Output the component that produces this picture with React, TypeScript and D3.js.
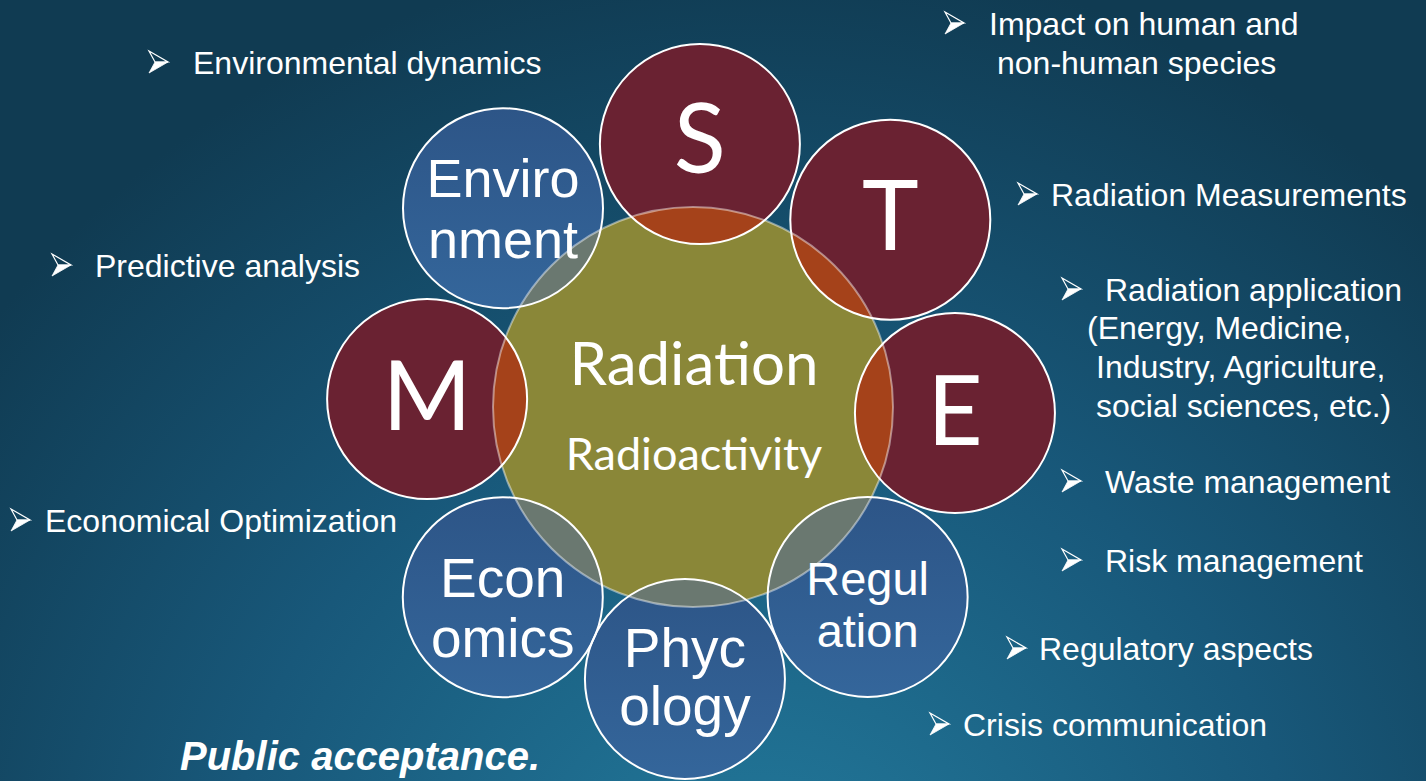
import React, { useEffect, useRef } from 'react';
import * as d3 from 'd3';

const W = 1426;
const H = 781;

// ring of topics around the core, clockwise from the top
const topicLines = [['S'], ['T'], ['E'], ['Regul', 'ation'], ['Phyc', 'ology'], ['Econ', 'omics'], ['M'], ['Enviro', 'nment']];
const topicGroup = ['stem', 'stem', 'stem', 'social', 'social', 'social', 'stem', 'social'];
const topicAngle = [-88.5, -43.5, 1.3, 47.4, 91.7, 135, 181.7, 226.3];
const topicDist = [263, 272, 262, 258, 272, 269, 266, 275];

const coreLines = ['Radiation', 'Radioactivity'];

const bulletLines = [
  ['Environmental dynamics'],
  ['Impact on human and', 'non-human species'],
  ['Radiation Measurements'],
  ['Radiation application', '(Energy, Medicine,', 'Industry, Agriculture,', 'social sciences, etc.)'],
  ['Waste management'],
  ['Risk management'],
  ['Regulatory aspects'],
  ['Crisis communication'],
  ['Predictive analysis'],
  ['Economical Optimization'],
];
const footer = 'Public acceptance.';

// layout
const core = { x: 693, y: 407, r: 200 };
const topicR = 100;
const topicFont = [96, 96, 96, 47, 55, 55, 96, 54];
const topicBase = [[29], [30], [32], [-2, 50], [-12, 46], [0, 60], [31], [-11, 50]];
const bulletPos = [
  { ax: 149, tx: 193, y: 74, sub: [] },
  { ax: 945, tx: 989, y: 35, sub: [[997, 74]] },
  { ax: 1018, tx: 1051, y: 206, sub: [] },
  { ax: 1062, tx: 1105, y: 301, sub: [[1087, 339], [1096, 378], [1096, 417]] },
  { ax: 1062, tx: 1105, y: 493, sub: [] },
  { ax: 1062, tx: 1105, y: 572, sub: [] },
  { ax: 1007, tx: 1039, y: 660, sub: [] },
  { ax: 930, tx: 963, y: 736, sub: [] },
  { ax: 52, tx: 95, y: 277, sub: [] },
  { ax: 11, tx: 45, y: 532, sub: [] },
];

const fill = { stem: '#6a2232', social: 'url(#blueFill)' };
const lens = { stem: '#a5421a', social: '#6a7870' };
const sans = '"Liberation Sans", Arial, sans-serif';
const soft = 'Lato, "Open Sans", sans-serif';

export default function App() {
  const ref = useRef<SVGSVGElement>(null);

  useEffect(() => {
    const svg = d3.select(ref.current);
    svg.selectAll('*').remove();

    const defs = svg.append('defs');
    const bg = defs.append('radialGradient').attr('id', 'bg')
      .attr('gradientUnits', 'userSpaceOnUse')
      .attr('cx', 760).attr('cy', 930).attr('r', 980);
    bg.append('stop').attr('offset', 0).attr('stop-color', '#237b9d');
    bg.append('stop').attr('offset', 0.55).attr('stop-color', '#18587a');
    bg.append('stop').attr('offset', 1).attr('stop-color', '#103b52');

    const blue = defs.append('linearGradient').attr('id', 'blueFill')
      .attr('x1', 0).attr('y1', 0).attr('x2', 0).attr('y2', 1);
    blue.append('stop').attr('offset', 0).attr('stop-color', '#2d5587');
    blue.append('stop').attr('offset', 1).attr('stop-color', '#34669b');

    defs.append('clipPath').attr('id', 'coreClip')
      .append('circle').attr('cx', core.x).attr('cy', core.y).attr('r', core.r);

    svg.append('rect').attr('width', W).attr('height', H).attr('fill', 'url(#bg)');

    const rad = d3.scaleLinear().domain([0, 180]).range([0, Math.PI]);
    const topics = topicLines.map((lines, i) => ({
      lines,
      group: topicGroup[i],
      x: core.x + topicDist[i] * Math.cos(rad(topicAngle[i])),
      y: core.y + topicDist[i] * Math.sin(rad(topicAngle[i])),
      size: topicFont[i],
      base: topicBase[i],
    }));

    // - core disc
    svg.append('circle').attr('cx', core.x).attr('cy', core.y).attr('r', core.r).attr('fill', '#8a8738');

    // - outer discs
    svg.selectAll('circle.topic').data(topics).enter().append('circle')
      .attr('class', 'topic')
      .attr('cx', d => d.x).attr('cy', d => d.y).attr('r', topicR)
      .attr('fill', d => fill[d.group]);

    // - overlaps with the core
    svg.append('g').attr('clip-path', 'url(#coreClip)')
      .selectAll('circle').data(topics).enter().append('circle')
      .attr('cx', d => d.x).attr('cy', d => d.y).attr('r', topicR)
      .attr('fill', d => lens[d.group]);

    svg.append('circle').attr('cx', core.x).attr('cy', core.y).attr('r', core.r)
      .attr('fill', 'none').attr('stroke', '#ffffff').attr('stroke-opacity', 0.45).attr('stroke-width', 2);

    svg.selectAll('circle.rim').data(topics).enter().append('circle')
      .attr('class', 'rim')
      .attr('cx', d => d.x).attr('cy', d => d.y).attr('r', topicR)
      .attr('fill', 'none').attr('stroke', '#ffffff').attr('stroke-width', 2);

    // - labels in discs (single letters use the softer face)
    topics.forEach(t => {
      const letter = t.lines[0].length === 1;
      t.lines.forEach((line, j) => {
        svg.append('text').attr('x', t.x).attr('y', t.y + t.base[j])
          .attr('text-anchor', 'middle').attr('fill', '#fff')
          .attr('font-family', letter ? soft : sans).attr('font-size', t.size)
          .text(line);
      });
    });

    svg.append('text').attr('x', core.x + 1).attr('y', 385)
      .attr('text-anchor', 'middle').attr('fill', '#fff')
      .attr('font-family', soft).attr('font-size', 60)
      .text(coreLines[0]);
    svg.append('text').attr('x', core.x + 1).attr('y', 470)
      .attr('text-anchor', 'middle').attr('fill', '#fff')
      .attr('font-family', soft).attr('font-size', 45)
      .text(coreLines[1]);

    // - bullets
    const arrowTop = (x: number, y: number) => `M${x},${y - 22}L${x + 19},${y - 11}L${x + 6},${y - 11}Z`;
    const arrowBottom = (x: number, y: number) => `M${x + 6},${y - 11}L${x + 19},${y - 11}L${x},${y}Z`;

    bulletLines.forEach((lines, i) => {
      const p = bulletPos[i];
      const g = svg.append('g');
      g.append('path').attr('d', arrowTop(p.ax, p.y - 1))
        .attr('fill', 'none').attr('stroke', '#fff').attr('stroke-width', 1.2).attr('stroke-linejoin', 'miter');
      g.append('path').attr('d', arrowBottom(p.ax, p.y - 1))
        .attr('fill', '#fff').attr('stroke', '#fff').attr('stroke-width', 0.8);
      g.append('text').attr('x', p.tx).attr('y', p.y)
        .attr('fill', '#fff').attr('font-family', sans).attr('font-size', 32)
        .text(lines[0]);
      lines.slice(1).forEach((line, j) => {
        g.append('text').attr('x', p.sub[j][0]).attr('y', p.sub[j][1])
          .attr('fill', '#fff').attr('font-family', sans).attr('font-size', 32)
          .text(line);
      });
    });

    svg.append('text').attr('x', 180).attr('y', 770)
      .attr('fill', '#fff').attr('font-family', sans).attr('font-size', 40)
      .attr('font-weight', 'bold').attr('font-style', 'italic')
      .text(footer);
  }, []);

  return (
    <svg ref={ref} width={W} height={H} style={{ position: 'absolute', left: 0, top: 0, display: 'block' }} />
  );
}
